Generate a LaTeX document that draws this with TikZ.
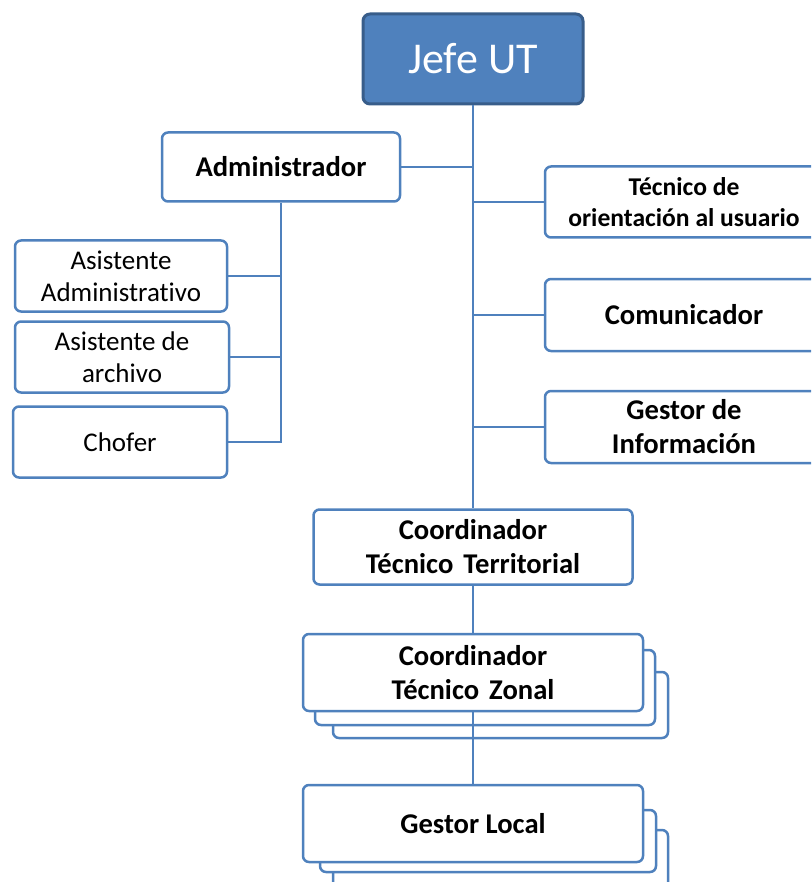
\documentclass[tikz,border=0pt]{standalone}
\usepackage{fontspec}
\setmainfont[Ligatures=NoCommon]{Carlito}
\definecolor{azul}{HTML}{4F81BD}
\definecolor{azulosc}{HTML}{385D8A}
\tikzset{
  caja/.style={draw=azul, line width=2.5pt, fill=white, rounded corners=6pt,
    align=center, inner sep=0pt},
  normal/.style={caja, font=\fontsize{27}{32}\selectfont},
  negrita/.style={caja, font=\fontsize{28.6}{34}\selectfont\bfseries},
  linea/.style={draw=azul, line width=2.3pt},
}
\begin{document}
\begin{tikzpicture}[x=1pt,y=-1pt]
\useasboundingbox (0,0) rectangle (811,882);
\clip (0,0) rectangle (811,882);
% jefe
\node[fill=azul, draw=azulosc, line width=3pt, rounded corners=7pt, inner sep=0pt,
  minimum width=220pt, minimum height=90pt, text=white,
  font=\fontsize{44}{50}\selectfont] (jefe) at (473,59) {Jefe UT};
% copias detras de los cuadros multiples
\node[caja, minimum width=335pt, minimum height=66pt] (ctzc) at (500.5,705) {};
\node[caja, minimum width=340pt, minimum height=75pt] (ctzb) at (485,687.5) {};
\node[caja, minimum width=335pt, minimum height=70pt] (glc) at (500.5,865) {};
\node[caja, minimum width=336pt, minimum height=62pt] (glb) at (488,841) {};
% izquierda
\node[negrita, minimum width=238pt, minimum height=69pt] (adm) at (281,167) {Administrador};
\node[normal, minimum width=212pt, minimum height=71pt] (asad) at (121,276) {Asistente\\Administrativo};
\node[normal, minimum width=214pt, minimum height=71pt] (asar) at (122,357) {Asistente de\\archivo};
\node[normal, minimum width=214pt, minimum height=71pt] (chof) at (120,442) {Chofer};
% derecha
\node[caja, minimum width=278pt, minimum height=71pt,
  font=\fontsize{25.6}{31}\selectfont\bfseries] (tec) at (684,202) {Técnico de\\orientación al usuario};
\node[negrita, minimum width=278pt, minimum height=72pt] (com) at (684,315) {Comunicador};
\node[negrita, minimum width=278pt, minimum height=72pt] (gest) at (684,427) {Gestor de\\Información};
% abajo
\node[negrita, minimum width=319pt, minimum height=75pt] (ctt) at (473,547) {Coordinador\\Técnico\hspace{0.35em}Territorial};
% lineas
\draw[linea] (jefe.south) -- (ctt.north);
\draw[linea] (ctt.south) -- (473,790);
\draw[linea] (adm.east) -- (adm.east -| jefe.south);
\draw[linea] (tec.west) -- (tec.west -| jefe.south);
\draw[linea] (com.west) -- (com.west -| jefe.south);
\draw[linea] (gest.west) -- (gest.west -| jefe.south);
\draw[linea] (adm.south) -- (adm.south |- chof.east) -- (chof.east);
\draw[linea] (asad.east) -- (asad.east -| adm.south);
\draw[linea] (asar.east) -- (asar.east -| adm.south);
% cuadros del frente
\node[negrita, minimum width=340pt, minimum height=77pt] (ctz) at (473,672.5) {Coordinador\\Técnico\hspace{0.35em}Zonal};
\node[negrita, minimum width=340pt, minimum height=77pt] (gl) at (473,823.5) {Gestor Local};
\end{tikzpicture}
\end{document}
